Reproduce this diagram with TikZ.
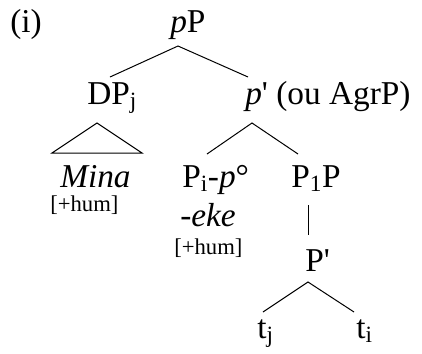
\documentclass[tikz,border=0pt]{standalone}
\usepackage{fontspec}
\setmainfont{Liberation Serif}[Ligatures=TeXOff]

\begin{document}
\begin{tikzpicture}[x=0.75pt, y=-0.75pt]
  \tikzset{
    lbl/.style={anchor=base west, inner sep=0pt, font=\fontsize{25}{30}\selectfont},
    feat/.style={anchor=base west, inner sep=0pt, font=\fontsize{17}{20}\selectfont},
    branch/.style={line width=0.75pt}
  }
  \useasboundingbox (0,0) rectangle (422,354);

  % labels
  \node[lbl] (num) at (10,32) {(i)};
  \node[lbl] (pP) at (170,32) {\textit{p}P};
  \node[lbl] (DPj) at (87,104) {DP\textsubscript{j}};
  \node[lbl] (pbar) at (245,104) {\textit{p}' (ou AgrP)};
  \node[lbl, font=\itshape\fontsize{25}{30}\selectfont] (Mina) at (60,187) {Mina};
  \node[feat] (hum1) at (50,211) {[+hum]};
  \node[lbl] (Pi) at (182,187) {P\textsubscript{i}-\textit{p}°};
  \node[lbl, font=\itshape\fontsize{25}{30}\selectfont] (eke) at (180,226) {-eke};
  \node[feat] (hum2) at (174,254) {[+hum]};
  \node[lbl] (P1P) at (291,187) {P\textsubscript{1}P};
  \node[lbl] (Pbar) at (305,271) {P'};
  \node[lbl] (tj) at (257,338) {t\textsubscript{j}};
  \node[lbl] (ti) at (356,338) {t\textsubscript{i}};

  % joints of the tree
  \coordinate (pP-foot) at (178,46);
  \coordinate (DPj-head) at (110,77);
  \coordinate (pbar-head) at (248,77);
  \coordinate (DPj-foot) at (97,123);
  \coordinate (pbar-foot) at (252,123);
  \coordinate (Pi-head) at (207,154);
  \coordinate (P1P-head) at (298,154);
  \coordinate (P1P-foot) at (308,205);
  \coordinate (Pbar-head) at (308,235);
  \coordinate (Pbar-foot) at (308,282);
  \coordinate (tj-head) at (263,312);
  \coordinate (ti-head) at (354,312);

  \draw[branch] (DPj-head) -- (pP-foot) -- (pbar-head);
  \draw[branch] (DPj-foot) -- (52,153) -- (142,153) -- cycle;
  \draw[branch] (Pi-head) -- (pbar-foot) -- (P1P-head);
  \draw[branch] (P1P-foot) -- (Pbar-head);
  \draw[branch] (tj-head) -- (Pbar-foot) -- (ti-head);
\end{tikzpicture}
\end{document}
